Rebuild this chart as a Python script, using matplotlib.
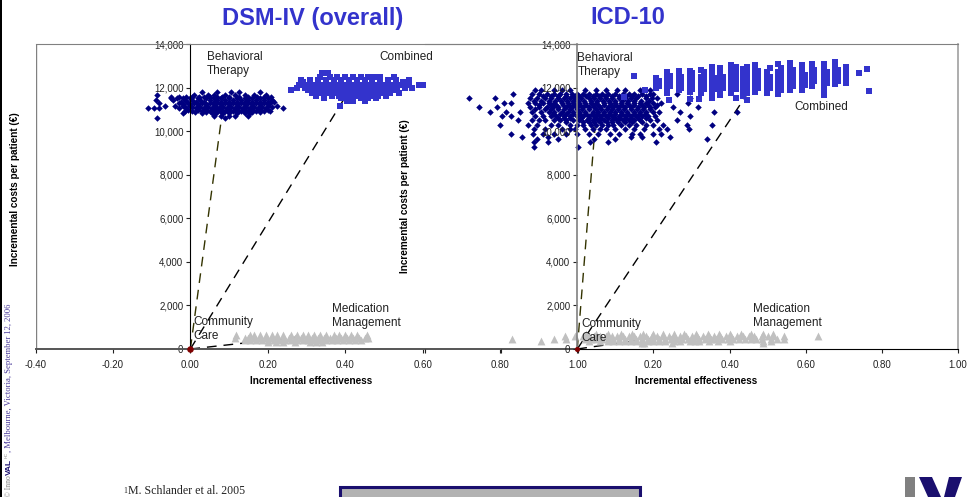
import matplotlib
matplotlib.use('Agg')
import matplotlib.pyplot as plt
from matplotlib.patches import Polygon, Rectangle

W = 969
H = 497
plt.rcParams['font.family'] = ['Liberation Sans', 'DejaVu Sans']

## tick labels
x_ticks = [-0.4, -0.2, 0.0, 0.2, 0.4, 0.6, 0.8, 1.0]
y_ticks = [0, 2000, 4000, 6000, 8000, 10000, 12000, 14000]
x_labels_left = ['-0.40', '-0.20', '0.00', '0.20', '0.40', '0.60', '0.80', '1.00']
x_labels_right = ['', '', '', '0.20', '0.40', '0.60', '0.80', '1.00']

## mean results: (effectiveness, cost)
means_left = {'bt': (0.085, 11200), 'comb': (0.415, 12000), 'mm': (0.28, 550)}
means_right = {'bt': (0.05, 10900), 'comb': (0.45, 11800), 'mm': (0.20, 500)}

## DSM-IV behavioral therapy, rows of (cost, effectiveness values)
bt_dsm = [
    (11780, [0.03, 0.07, 0.105, 0.125, 0.18]),
    (11650, [-0.085, 0.01, 0.045, 0.06, 0.09, 0.115, 0.14, 0.165, 0.195]),
    (11580, [-0.05, -0.03, -0.012, 0.005, 0.022, 0.035, 0.052, 0.07, 0.082, 0.1, 0.125, 0.15, 0.172, 0.19, 0.208]),
    (11520, [-0.05, -0.035, -0.02, 0.0, 0.02, 0.04, 0.06, 0.08, 0.10, 0.12, 0.14, 0.16, 0.18, 0.2]),
    (11430, [-0.09, -0.045, -0.015, 0.005, 0.025, 0.05, 0.07, 0.09, 0.11, 0.13, 0.15, 0.17, 0.19, 0.21]),
    (11360, [-0.025, -0.008, 0.015, 0.035, 0.06, 0.08, 0.1, 0.12, 0.14, 0.16, 0.18, 0.2, 0.215]),
    (11300, [-0.08, -0.03, -0.005, 0.01, 0.03, 0.05, 0.07, 0.09, 0.11, 0.13, 0.15, 0.17, 0.19, 0.205]),
    (11230, [-0.02, 0.0, 0.02, 0.04, 0.06, 0.08, 0.1, 0.12, 0.14, 0.16, 0.18, 0.2]),
    (11170, [-0.065, -0.04, -0.02, 0.0, 0.02, 0.04, 0.06, 0.08, 0.10, 0.12, 0.14, 0.16, 0.18, 0.2, 0.225]),
    (11110, [-0.015, 0.005, 0.025, 0.045, 0.065, 0.085, 0.105, 0.125, 0.145, 0.165, 0.185, 0.21]),
    (11050, [-0.11, -0.095, -0.08, -0.03, -0.01, 0.015, 0.035, 0.055, 0.075, 0.095, 0.115, 0.135, 0.155, 0.175, 0.195, 0.24]),
    (10990, [-0.005, 0.02, 0.04, 0.06, 0.08, 0.1, 0.12, 0.14, 0.16, 0.18, 0.2]),
    (10930, [-0.015, 0.005, 0.03, 0.05, 0.07, 0.09, 0.11, 0.13, 0.15, 0.17, 0.19, 0.205]),
    (10870, [0.012, 0.04, 0.06, 0.08, 0.1, 0.12, 0.14, 0.16, 0.18]),
    (10810, [-0.02, 0.03, 0.055, 0.065, 0.085, 0.1, 0.12, 0.14, 0.155]),
    (10680, [0.06, 0.08, 0.1, 0.115, 0.15]),
    (10600, [-0.085, 0.09]),
]

## DSM-IV combined
comb_dsm = [
    (12660, [0.34, 0.355]),
    (12500, [0.335, 0.36, 0.38, 0.40, 0.42, 0.44, 0.46, 0.475, 0.49, 0.525]),
    (12370, [0.285, 0.31, 0.33, 0.35, 0.37, 0.39, 0.41, 0.43, 0.45, 0.47, 0.49, 0.51, 0.53, 0.565]),
    (12240, [0.29, 0.31, 0.33, 0.35, 0.37, 0.39, 0.41, 0.43, 0.45, 0.47, 0.49, 0.51, 0.53, 0.55, 0.565]),
    (12120, [0.28, 0.3, 0.32, 0.34, 0.36, 0.38, 0.40, 0.42, 0.44, 0.46, 0.48, 0.5, 0.52, 0.54, 0.56, 0.59, 0.60]),
    (12000, [0.275, 0.295, 0.315, 0.335, 0.355, 0.375, 0.395, 0.415, 0.435, 0.455, 0.475, 0.495, 0.515, 0.535, 0.555, 0.573]),
    (11880, [0.26, 0.305, 0.325, 0.345, 0.365, 0.385, 0.405, 0.425, 0.445, 0.465, 0.485, 0.505, 0.525]),
    (11750, [0.315, 0.335, 0.355, 0.375, 0.395, 0.415, 0.435, 0.455, 0.475, 0.495, 0.515, 0.54]),
    (11630, [0.325, 0.345, 0.365, 0.385, 0.405, 0.425, 0.445, 0.465, 0.485, 0.505]),
    (11520, [0.345, 0.39, 0.40, 0.42, 0.44, 0.46, 0.48]),
    (11400, [0.405, 0.42, 0.45]),
    (11150, [0.387]),
]

## DSM-IV medication management
mm_dsm = [
    (640, [0.117, 0.155, 0.165, 0.18, 0.195, 0.21, 0.225, 0.24, 0.26, 0.275, 0.29, 0.305, 0.32, 0.335, 0.35, 0.37, 0.385, 0.4, 0.415, 0.43, 0.455]),
    (520, [0.115, 0.14, 0.15, 0.165, 0.18, 0.195, 0.21, 0.225, 0.24, 0.255, 0.27, 0.285, 0.3, 0.315, 0.33, 0.345, 0.36, 0.375, 0.39, 0.405, 0.42, 0.435, 0.45, 0.46]),
    (420, [0.14, 0.155, 0.17, 0.185, 0.2, 0.215, 0.23, 0.245, 0.26, 0.275, 0.29, 0.305, 0.32, 0.335, 0.35, 0.365, 0.38, 0.395, 0.41, 0.425, 0.44]),
    (340, [0.2, 0.22, 0.24, 0.27, 0.31, 0.325, 0.34]),
]

## ICD-10 behavioral therapy
bt_icd = [
    (11900, [-0.11, -0.095, -0.06, -0.04, -0.02, 0.02, 0.05, 0.075, 0.105, 0.125, 0.165, 0.19]),
    (11700, [-0.168, -0.12, -0.10, -0.08, -0.06, -0.045, -0.03, -0.015, 0.0, 0.015, 0.03, 0.05, 0.065, 0.08, 0.10, 0.12, 0.135, 0.15, 0.17, 0.19, 0.2, 0.263]),
    (11600, [-0.09, -0.07, -0.05, -0.03, -0.01, 0.005, 0.022, 0.04, 0.058, 0.072, 0.09, 0.11, 0.128, 0.145, 0.16, 0.18]),
    (11500, [-0.284, -0.216, -0.125, -0.105, -0.085, -0.07, -0.05, -0.035, -0.02, -0.005, 0.01, 0.03, 0.045, 0.06, 0.075, 0.09, 0.11, 0.125, 0.14, 0.155, 0.18, 0.195, 0.21, 0.295]),
    (11400, [-0.115, -0.095, -0.075, -0.058, -0.042, -0.028, -0.012, 0.002, 0.018, 0.036, 0.052, 0.068, 0.082, 0.1, 0.118, 0.132, 0.148, 0.168, 0.188]),
    (11300, [-0.192, -0.175, -0.13, -0.11, -0.09, -0.075, -0.06, -0.04, -0.025, -0.01, 0.005, 0.02, 0.035, 0.05, 0.07, 0.085, 0.1, 0.115, 0.13, 0.15, 0.165, 0.18, 0.2, 0.22, 0.291]),
    (11200, [-0.1, -0.07, -0.055, -0.038, -0.022, -0.006, 0.008, 0.024, 0.04, 0.055, 0.07, 0.088, 0.102, 0.118, 0.135, 0.15, 0.17, 0.185, 0.21]),
    (11100, [-0.258, -0.21, -0.125, -0.10, -0.08, -0.065, -0.05, -0.03, -0.015, 0.0, 0.015, 0.03, 0.045, 0.06, 0.08, 0.095, 0.11, 0.125, 0.14, 0.16, 0.175, 0.19, 0.205, 0.252, 0.317]),
    (11000, [-0.11, -0.085, -0.068, -0.05, -0.035, -0.018, -0.002, 0.012, 0.03, 0.048, 0.062, 0.078, 0.092, 0.108, 0.122, 0.14, 0.158, 0.172, 0.19]),
    (10900, [-0.228, -0.186, -0.15, -0.12, -0.095, -0.075, -0.06, -0.04, -0.025, -0.01, 0.005, 0.02, 0.04, 0.055, 0.07, 0.085, 0.1, 0.115, 0.13, 0.15, 0.165, 0.18, 0.2, 0.215, 0.269, 0.36, 0.42]),
    (10800, [-0.065, -0.045, -0.03, -0.012, 0.008, 0.022, 0.038, 0.052, 0.068, 0.082, 0.1, 0.118, 0.132, 0.148, 0.162, 0.178]),
    (10700, [-0.199, -0.173, -0.11, -0.09, -0.07, -0.055, -0.035, -0.02, 0.0, 0.015, 0.03, 0.045, 0.06, 0.075, 0.09, 0.11, 0.125, 0.14, 0.155, 0.17, 0.185, 0.205, 0.295]),
    (10600, [-0.05, -0.035, -0.018, 0.01, 0.032, 0.048, 0.062, 0.08, 0.098, 0.112, 0.128, 0.142, 0.16, 0.18]),
    (10500, [-0.155, -0.12, -0.1, -0.085, -0.06, -0.045, -0.03, -0.01, 0.005, 0.025, 0.04, 0.055, 0.07, 0.09, 0.105, 0.12, 0.135, 0.15, 0.165, 0.19, 0.21, 0.263]),
    (10400, [-0.03, 0.015, 0.03, 0.045, 0.06, 0.078, 0.09, 0.108, 0.125, 0.145, 0.17]),
    (10300, [-0.203, -0.13, -0.105, -0.07, -0.05, -0.02, 0.0, 0.015, 0.035, 0.05, 0.065, 0.08, 0.095, 0.115, 0.135, 0.155, 0.18, 0.2, 0.225, 0.287, 0.353]),
    (10100, [-0.115, -0.085, -0.04, -0.02, -0.005, 0.02, 0.04, 0.06, 0.075, 0.1, 0.125, 0.15, 0.175, 0.215, 0.235, 0.293]),
    (9850, [-0.174, -0.117, -0.09, -0.06, -0.03, 0.0, 0.03, 0.055, 0.085, 0.11, 0.145, 0.165, 0.2, 0.221]),
    (9740, [-0.144, -0.077, 0.142, 0.171, 0.243]),
    (9640, [-0.107, -0.05, 0.045, 0.098, 0.342]),
    (9500, [-0.113, -0.077, 0.033, 0.081, 0.208]),
    (9280, [-0.113, 0.002]),
]

## ICD-10 combined, columns of (effectiveness, cost values)
comb_icd = [
    (0.208, [11965, 12200, 12424]),
    (0.214, [12050, 12300]),
    (0.236, [11735, 11950, 12200, 12450, 12730]),
    (0.243, [12050, 12300, 12550]),
    (0.266, [11888, 12100, 12350, 12600, 12760]),
    (0.272, [12000, 12250, 12500]),
    (0.295, [11812, 12050, 12300, 12550, 12776]),
    (0.302, [11950, 12200, 12450, 12650]),
    (0.326, [11735, 11980, 12230, 12480, 12806]),
    (0.333, [11950, 12200, 12450, 12700]),
    (0.354, [11506, 11750, 12000, 12250, 12500, 12700, 12929]),
    (0.36, [11950, 12200, 12450]),
    (0.376, [11659, 11900, 12150, 12400, 12650, 12883]),
    (0.383, [12000, 12250, 12500]),
    (0.405, [11750, 12000, 12250, 12500, 12750, 13036]),
    (0.416, [11506, 11950, 12200, 12450, 12700, 12950]),
    (0.436, [11600, 11850, 12100, 12350, 12600, 12850]),
    (0.446, [11429, 11750, 12000, 12250, 12500, 12750, 12959]),
    (0.466, [11812, 12050, 12300, 12550, 12800, 13036]),
    (0.474, [12000, 12250, 12500, 12750]),
    (0.497, [11735, 11980, 12230, 12480, 12700]),
    (0.505, [12000, 12250, 12500, 12883]),
    (0.527, [11705, 11950, 12200, 12450, 12700, 13082]),
    (0.535, [11900, 12150, 12400, 12650, 12900]),
    (0.559, [11888, 12130, 12380, 12630, 12880, 13112]),
    (0.566, [12050, 12300, 12550, 12800]),
    (0.59, [11888, 12130, 12380, 12630, 12880, 13036]),
    (0.597, [12100, 12350, 12600]),
    (0.616, [12072, 12320, 12570, 12820, 13082]),
    (0.622, [12300, 12550, 12800]),
    (0.648, [11659, 11900, 12150, 12400, 12650, 12900, 13082]),
    (0.655, [12200, 12450, 12700]),
    (0.678, [12164, 12400, 12650, 12900, 13158]),
    (0.684, [12300, 12550, 12800]),
    (0.707, [12194, 12450, 12700, 12959]),
    (0.15, [12540]),
    (0.177, [11880]),
    (0.122, [11580]),
    (0.24, [11440]),
    (0.295, [11470]),
    (0.321, [11490]),
    (0.74, [12650]),
    (0.762, [12830]),
    (0.767, [11820]),
]

## ICD-10 medication management
mm_icd = [
    (700, [0.024, 0.05, 0.081, 0.115, 0.144, 0.172, 0.2, 0.226, 0.255, 0.281, 0.312, 0.343, 0.372, 0.4, 0.43, 0.457, 0.487, 0.513]),
    (600, [-0.033, -0.007, 0.016, 0.03, 0.045, 0.06, 0.075, 0.09, 0.105, 0.12, 0.135, 0.15, 0.165, 0.18, 0.195, 0.21, 0.225, 0.24, 0.255, 0.27, 0.285, 0.3, 0.315, 0.33, 0.345, 0.36, 0.375, 0.39, 0.405, 0.42, 0.435, 0.45, 0.465, 0.485, 0.5, 0.515, 0.544, 0.633]),
    (460, [-0.171, -0.06, -0.029, 0.02, 0.035, 0.05, 0.065, 0.08, 0.095, 0.11, 0.125, 0.14, 0.155, 0.17, 0.185, 0.2, 0.215, 0.23, 0.245, 0.26, 0.275, 0.29, 0.305, 0.32, 0.335, 0.35, 0.365, 0.38, 0.395, 0.41, 0.425, 0.44, 0.455, 0.47, 0.485, 0.51, 0.525, 0.544]),
    (350, [-0.094, 0.03, 0.06, 0.08, 0.095, 0.11, 0.125, 0.14, 0.155, 0.17, 0.185, 0.2, 0.215, 0.23, 0.255, 0.27, 0.295, 0.31, 0.32, 0.345, 0.37, 0.4, 0.487, 0.51]),
    (260, [0.17, 0.175, 0.25, 0.487]),
]


def rows_xy(rows):
    xs = []
    ys = []
    for y, row in rows:
        xs += row
        ys += [y]*len(row)
    return xs, ys


def cols_xy(cols):
    xs = []
    ys = []
    for x, col in cols:
        xs += [x]*len(col)
        ys += col
    return xs, ys


def px(x, y):
    return x/W, 1 - y/H


def make_axes(left, right):
    ax = fig.add_axes([left/W, 1 - 349/H, (right - left)/W, 305/H])
    ax.patch.set_alpha(0)
    ax.set_xlim(-0.4, 1.0)
    ax.set_ylim(0, 14000)
    ax.set_xticks(x_ticks)
    ax.set_yticks(y_ticks)
    ax.set_yticklabels(['{:,}'.format(v) for v in y_ticks])
    ax.tick_params(axis='both', labelsize=7, length=3, width=0.8, colors='#222222', pad=2)
    ax.tick_params(axis='x', pad=5)
    ax.spines['left'].set_position(('data', 0))
    ax.spines['bottom'].set_zorder(3)
    ax.set_xlabel('Incremental effectiveness', fontsize=7.2, fontweight='bold')
    ax.set_ylabel('Incremental costs per patient (€)', fontsize=7.2, fontweight='bold')
    return ax


def draw_means(ax, means):
    ax.plot([0, means['bt'][0]], [0, means['bt'][1]], color='#333300', lw=1.0, dashes=(7, 5), zorder=0.5)
    ax.plot([0, means['comb'][0]], [0, means['comb'][1]], color='black', lw=1.0, dashes=(7, 5), zorder=0.5)
    ax.plot([0, means['mm'][0]], [0, means['mm'][1]], color='black', lw=1.0, dashes=(7, 5), zorder=0.5)


fig = plt.figure(figsize=(W/100, H/100), dpi=100)

## left chart, DSM-IV
ax1 = make_axes(35.5, 577.5)
ax1.set_xticklabels(x_labels_left)
ax1.spines['left'].set_color('black')
ax1.spines['bottom'].set_color('#555555')
ax1.spines['bottom'].set_linewidth(1.4)
ax1.spines['top'].set_color('#808080')
ax1.spines['right'].set_visible(False)
ax1.axvline(-0.4, color='#808080', lw=1.0)
ax1.xaxis.set_label_coords(0.509, -0.089)
ax1.yaxis.set_label_coords(-0.029, 0.525)
draw_means(ax1, means_left)
x, y = rows_xy(bt_dsm)
ax1.scatter(x, y, c='#000080', marker='D', s=11, linewidths=0)
x, y = rows_xy(comb_dsm)
ax1.scatter(x, y, c='#3333cc', marker='s', s=20, linewidths=0)
x, y = rows_xy(mm_dsm)
ax1.scatter(x, y, c='#c0c0c0', marker='^', s=32, linewidths=0)
ax1.scatter([0], [0], c='#800000', marker='o', s=22, linewidths=0, clip_on=False, zorder=4)

## right chart, ICD-10, lies over the left one
ax2 = make_axes(425, 958)
ax2.set_xticklabels(x_labels_right)
ax2.spines['left'].set_color('#808080')
ax2.spines['left'].set_linewidth(1.2)
ax2.spines['bottom'].set_bounds(0, 1.0)
ax2.spines['bottom'].set_color('black')
ax2.spines['top'].set_color('#808080')
ax2.spines['right'].set_color('#a0a0a0')
ax2.spines['right'].set_linewidth(1.2)
ax2.xaxis.set_label_coords(0.508, -0.089)
ax2.yaxis.set_label_coords(-0.028, 0.50)
draw_means(ax2, means_right)
x, y = rows_xy(bt_icd)
ax2.scatter(x, y, c='#000080', marker='D', s=11, linewidths=0)
x, y = cols_xy(comb_icd)
ax2.scatter(x, y, c='#3333cc', marker='s', s=20, linewidths=0)
x, y = rows_xy(mm_icd)
ax2.scatter(x, y, c='#c0c0c0', marker='^', s=32, linewidths=0)
ax2.scatter([0], [0], c='#800000', marker='o', s=14, linewidths=0, clip_on=False, zorder=4)

## titles and series names
fig.text(*px(313, 18), 'DSM-IV (overall)', color='#3333cc', fontsize=17, fontweight='bold', ha='center', va='center')
fig.text(*px(628, 18), 'ICD-10', color='#3333cc', fontsize=17, fontweight='bold', ha='center', va='center')

names = [
    (207, 64, 'Behavioral\nTherapy'),
    (379, 57, 'Combined'),
    (193, 329, 'Community\nCare'),
    (332, 316, 'Medication\nManagement'),
    (577.5, 65, 'Behavioral\nTherapy'),
    (794, 107, 'Combined'),
    (581, 331, 'Community\nCare'),
    (753, 316, 'Medication\nManagement'),
]
for nx, ny, name in names:
    fig.text(*px(nx, ny), name, color='#222222', fontsize=8.5, ha='left', va='center', linespacing=1.3)

## slide furniture
fig.patches.append(Rectangle((0, 0), 1.5/W, 1, transform=fig.transFigure, color='black', lw=0))
fig.patches.append(Rectangle(px(339.5, 499), 300/W, 12.5/H, transform=fig.transFigure, fc='#b2b2b2', ec='#1a0f6e', lw=2.2))
fig.patches.append(Rectangle(px(905, 499), 10/W, 22/H, transform=fig.transFigure, color='#808080', lw=0))
fig.patches.append(Polygon([px(919, 477), px(932, 477), px(941, 497), px(928, 497)], transform=fig.transFigure, color='#1a0f6e', lw=0))
fig.patches.append(Polygon([px(949, 477), px(962, 477), px(955, 497), px(944, 497)], transform=fig.transFigure, color='#1a0f6e', lw=0))

fig.text(*px(123, 491), '1', family='Liberation Serif', fontsize=5.5, color='#222222', ha='left', va='center')
fig.text(*px(127.5, 497), 'M. Schlander et al. 2005', family='Liberation Serif', fontsize=8.6, color='#222222', ha='left', va='bottom')

fig.text(*px(9, 497), '© Inno', family='Liberation Serif', fontsize=5.5, color='#808080', rotation=90, ha='center', va='bottom')
fig.text(*px(9, 475), 'VAL', fontsize=6, fontweight='bold', color='#1a0f6e', rotation=90, ha='center', va='bottom')
fig.text(*px(6.5, 458), 'HC', fontsize=3, color='#808080', rotation=90, ha='center', va='bottom')
fig.text(*px(9, 452), ', Melbourne, Victoria, September 12, 2006', family='Liberation Serif', fontsize=6.2, color='#4a3a9a', rotation=90, ha='center', va='bottom')

fig.savefig('out.png', dpi=100)
